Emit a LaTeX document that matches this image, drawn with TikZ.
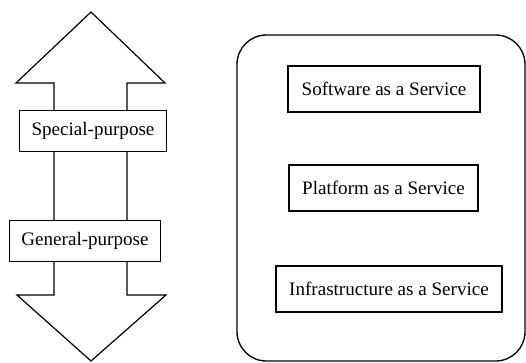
\documentclass[tikz,border=0pt]{standalone}
\usepackage{fontspec}
\setmainfont{Liberation Serif}
\usepackage{tikz}
\usetikzlibrary{positioning}

\begin{document}
\begin{tikzpicture}[x=0.75pt, y=-0.75pt,
        levelbox/.style={draw, fill=white, line width=0.8pt, inner xsep=9pt,
            minimum height=31pt, font=\fontsize{14.3}{16}\selectfont},
        servicebox/.style={draw, fill=white, line width=1.6pt, inner xsep=10pt,
            minimum height=34pt, font=\fontsize{14.3}{16}\selectfont}]
            \useasboundingbox (0,0) rectangle (526,362);

            % Double arrow
            \draw[line width=0.9pt, line join=miter]
                (91,12) -- (165,83) -- (127,83) -- (127,295) -- (166,295)
                -- (91,361) -- (17,295) -- (54,295) -- (54,83) -- (16,83) -- cycle;

            \node[levelbox] (special) at (93,131) {Special-purpose};
            \node[levelbox] (general) at (85,241) {General-purpose};

            % Service models
            \draw[line width=1pt, rounded corners=22pt] (237,35) rectangle (525,361);

            \node[servicebox] (saas) at (384,89) {Software as a Service};
            \node[servicebox] (paas) at (383.5,188) {Platform as a Service};
            \node[servicebox] (iaas) at (389,289) {Infrastructure as a Service};
        \end{tikzpicture}
\end{document}
